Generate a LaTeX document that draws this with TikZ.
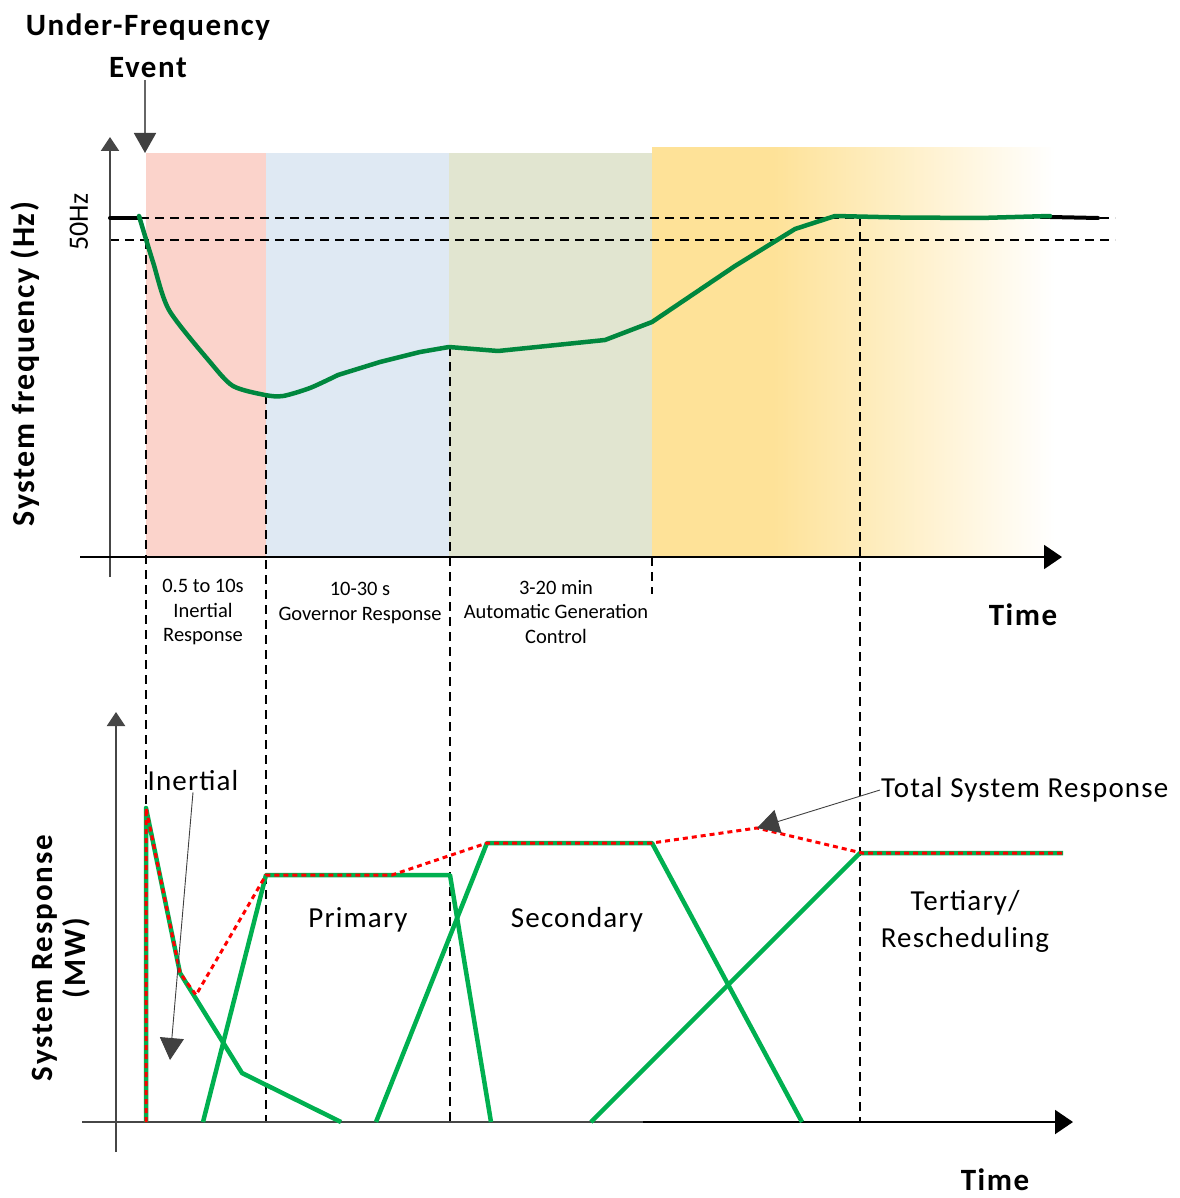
\documentclass[tikz,border=0pt]{standalone}
\usepackage{fontspec}
\setmainfont{Carlito}
\usetikzlibrary{arrows.meta}
\definecolor{pinkbg}{RGB}{251,211,203}
\definecolor{bluebg}{RGB}{223,233,243}
\definecolor{greenbg}{RGB}{225,229,208}
\definecolor{yellowbg}{RGB}{254,226,152}
\definecolor{freqgreen}{RGB}{0,135,62}
\definecolor{respgreen}{RGB}{0,176,80}
\definecolor{axisgray}{RGB}{70,70,70}
\definecolor{anngray}{RGB}{64,64,64}
\pgfdeclarehorizontalshading{yfade}{100bp}{color(0bp)=(yellowbg); color(25bp)=(yellowbg); color(40bp)=(yellowbg); color(75bp)=(white); color(100bp)=(white)}
\begin{document}
\begin{tikzpicture}[x=1pt,y=-1pt,
  dashline/.style={black,line width=1.3pt,dash pattern=on 9pt off 6pt},
  grayaxis/.style={axisgray,line width=2pt,-{Triangle[length=14pt,width=18pt]}},
  blackaxis/.style={black,line width=2pt,-{Triangle[length=18pt,width=24pt]}},
  freqcurve/.style={freqgreen,line width=4.5pt,line join=round,line cap=round},
  respline/.style={respgreen,line width=4.5pt,line join=round},
  totalline/.style={red,line width=3pt,dash pattern=on 5pt off 4pt},
  annarrow/.style={anngray,line width=0.9pt,-{Triangle[length=22pt,width=24pt]}},
  evtarrow/.style={anngray!80,line width=1.8pt,-{Triangle[length=20pt,width=22pt,color=anngray]}},
  boldlbl/.style={font=\bfseries\fontsize{31}{42}\selectfont\addfontfeature{LetterSpace=5},align=center,inner sep=0pt},
  rangelbl/.style={font=\fontsize{20.5}{24.5}\selectfont,align=center,inner sep=0pt},
  biglbl/.style={font=\fontsize{29}{37}\selectfont\addfontfeature{LetterSpace=4},align=center,inner sep=1pt}
]
\useasboundingbox (0,0) rectangle (1179,1198);
% background bands
\fill[pinkbg] (146,153) rectangle (266,557);
\fill[bluebg] (266,153) rectangle (449,557);
\fill[greenbg] (449,153) rectangle (652,557);
\shade[shading=yfade] (652,148) rectangle (1055,557);
% horizontal dashed reference lines
\draw[dashline] (110,218) -- (1115,218);
\draw[dashline] (110,240) -- (1115,240);
% vertical dashed lines
\draw[dashline] (146,240) -- (146,1122);
\draw[dashline] (266,395) -- (266,1122);
\draw[dashline] (450,347) -- (450,1122);
\draw[dashline] (652,557) -- (652,594);
\draw[dashline] (860,217) -- (860,1122);
% top axes
\draw[grayaxis] (110,577) -- (110,137);
\draw[blackaxis] (80,557) -- (1062,557);
% black nominal segments
\draw[black,line width=4pt,line cap=round] (110,218) -- (140,218);
\draw[black,line width=4pt,line cap=round] (1050,217) -- (1098,218);
% frequency curve
\draw[freqcurve] plot[smooth,tension=0.45] coordinates {(139,216) (153,262) (169,310) (210,362) (233,386) (265,395) (283,396) (310,388) (338,375)}
  -- (380,362) -- (420,352) -- (449,347) -- (498,351) -- (605,340) -- (652,322) -- (735,266) -- (795,229) -- (835,216) -- (900,217.5) -- (980,218) -- (1050,216);
% event
\node[boldlbl] (evt) at (148,46) {Under-Frequency\\Event};
\coordinate (evtip) at (145,153);
\coordinate (evstart) at (145,80);
\draw[evtarrow] (evstart) -- (evtip);
% top labels
\node[rangelbl] (r1) at (203,612) {0.5 to 10s\\Inertial\\Response};
\node[rangelbl] (r2) at (360,603) {10-30 s\\Governor Response};
\node[rangelbl] (r3) at (556,612) {3-20 min\\Automatic Generation\\Control};
\node[boldlbl] (t1) at (1023,615) {Time};
\node[boldlbl,rotate=90,font=\bfseries\fontsize{32}{36}\selectfont\addfontfeature{LetterSpace=5}] (yl1) at (25,364) {System frequency (Hz)};
\node[rotate=90,font=\fontsize{28}{30}\selectfont,inner sep=0pt] (hz) at (79,222) {50Hz};
% bottom axes
\draw[grayaxis] (116,1152) -- (116,712);
\draw[axisgray,line width=2pt] (82,1122) -- (643,1122);
\draw[blackaxis] (643,1122) -- (1073,1122);
\node[boldlbl] (t2) at (995,1180) {Time};
\node[boldlbl,rotate=90,font=\bfseries\fontsize{31}{33}\selectfont\addfontfeature{LetterSpace=6}] (yl2) at (61,958) {System Response\\(MW)};
% response lines
\draw[respline] (146,1122) -- (146,808) -- (180,973) -- (242,1073) -- (341,1122);
\draw[respline] (203,1122) -- (266,875) -- (450,875) -- (491,1122);
\draw[respline] (376,1122) -- (487,843) -- (652,843) -- (802,1122);
\draw[respline] (591,1122) -- (860,853) -- (1063,853);
% total system response
\draw[totalline] (146,1122) -- (146,808) -- (180,973) -- (196,995) -- (266,875) -- (392,875) -- (487,843) -- (652,843) -- (757,828) -- (862,853) -- (1063,853);
% labels
\node[biglbl] (pri) at (358,920) {Primary};
\node[biglbl] (sec) at (577,920) {Secondary};
\node[biglbl] (ter) at (965,921) {Tertiary/\\Rescheduling};
\node[biglbl] (inl) at (193,781) {Inertial};
\coordinate (intip) at (170,1060);
\draw[annarrow] (inl.south) -- (intip);
\node[biglbl,anchor=west] (tot) at (880,790) {Total System Response};
\coordinate (tottip) at (757,828);
\draw[annarrow] (tot.west) -- (tottip);
\end{tikzpicture}
\end{document}
